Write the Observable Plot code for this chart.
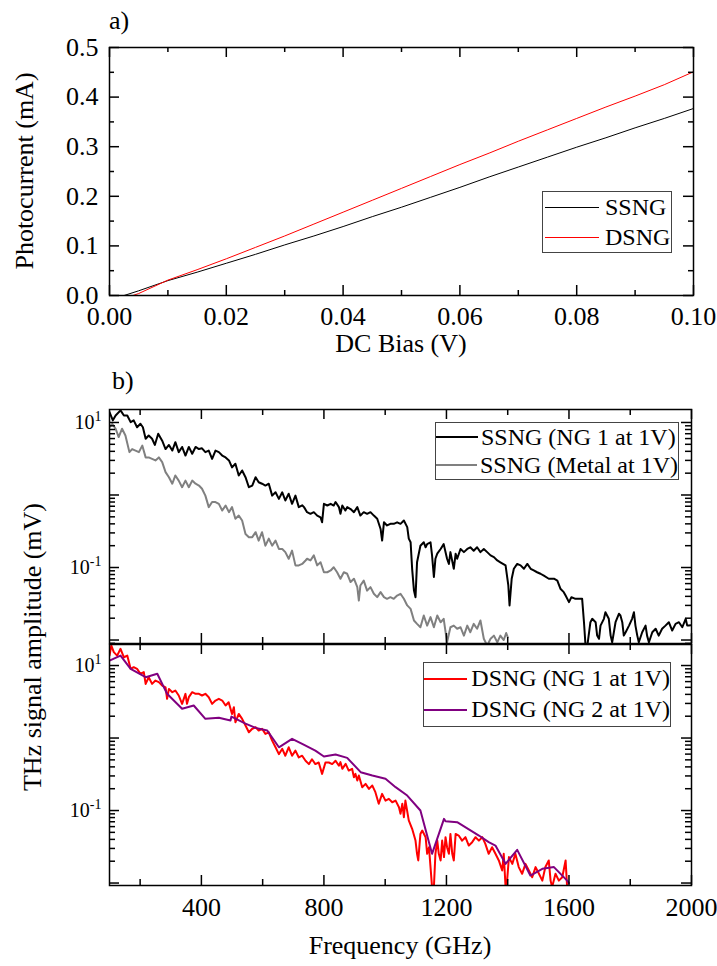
<!DOCTYPE html>
<html>
<head>
<meta charset="utf-8">
<script src="https://cdn.jsdelivr.net/npm/d3@7"></script>
<script src="https://cdn.jsdelivr.net/npm/@observablehq/plot@0.6"></script>
<style>
  body { margin: 0; background: #fff; }
  #wrap { position: relative; width: 717px; height: 966px; overflow: hidden;
          font-family: 'Liberation Serif', 'Times New Roman', serif; color: #000; }
  #wrap svg { position: absolute; left: 0; }
  .txt { position: absolute; font-size: 26px; line-height: 26px; white-space: nowrap; }
  .vt { position: absolute; font-size: 26px; line-height: 26px; height: 26px; width: 400px;
        text-align: center; white-space: nowrap; transform: rotate(-90deg); }
  .legend { position: absolute; border: 1px solid #444; background: #fff; box-sizing: border-box;
            font-size: 24px; white-space: nowrap; }
  .legend .row { display: flex; align-items: center; }
  .legend .sw { display: inline-block; }
</style>
</head>
<body>
<div id="wrap"></div>
<script>
// ---------- DATA ----------
// Panel a) Photocurrent vs DC bias
const biasSSNG = [0.0025, 0.005, 0.01, 0.015, 0.02, 0.025, 0.03, 0.035, 0.04, 0.045, 0.05, 0.055, 0.06, 0.065, 0.07, 0.075, 0.08, 0.085, 0.09, 0.095, 0.1];
const currSSNG = [0, 0.0095, 0.030, 0.047, 0.065, 0.083, 0.102, 0.120, 0.139, 0.159, 0.178, 0.198, 0.218, 0.239, 0.259, 0.279, 0.299, 0.318, 0.338, 0.357, 0.377];
const biasDSNG = [0.004, 0.005, 0.01, 0.015, 0.02, 0.025, 0.03, 0.035, 0.04, 0.045, 0.05, 0.055, 0.06, 0.065, 0.07, 0.075, 0.08, 0.085, 0.09, 0.095, 0.1];
const currDSNG = [0, 0.004, 0.031, 0.052, 0.074, 0.097, 0.120, 0.144, 0.168, 0.192, 0.216, 0.240, 0.264, 0.287, 0.311, 0.334, 0.357, 0.380, 0.402, 0.425, 0.451];

// Panel b) top: SSNG (NG 1 at 1V)
const freqSsngNg = [100,111,120,136,147,158,169,179,190,201,209,218,228,239,248,259,272,283,294,305,315,326,337,348,359,370,381,392,402,413,424,435,446,457,468,479,490,500,511,522,533,544,555,566,577,587,598,609,620,631,642,653,664,674,685,696,707,718,729,
 735,745,756,767,778,789,794,800,811,822,832,838,849,854,860,870,876,887,898,909,919,930,941,952,963,974,985,990,996,1006,1017,1028,1039,1050,1061,1072,1077,1083,1088,1094,1099,1104,1115,1126,1132,1137,1148,1153,1159,1164,1170,1181,1191,1202,1208,1213,1224,1230,1235,1246,1257,1268,1278,1289,1300,1311,1322,1333,1344,1355,1366,1376,
 1393,1402,1406,1413,1420,1431,1442,1453,1464,1475,1485,1496,1507,1518,1534,1551,1562,1572,1583,1589,1600,1608,1621,1632,1643,1649,1654,1660,1670,1676,1687,1692,1698,1703,1714,1719,1730,1736,1741,1752,1763,1768,1774,1779,1785,1796,1806,1812,1817,1823,1828,1839,1850,1855,1861,1872,1883,1893,1904,1915,1926,1937,1948,1959,1970,1981,1986,1991,2000];
const ampSsngNg = [13.9,10.7,12.5,14.7,12.5,12.5,10.1,10.7,8.6,9.6,8.6,5.96,6.6,5.96,4.9,7.0,5.6,4.3,4.9,4.1,5.35,3.9,4.6,3.5,4.6,3.7,4.6,4.3,4.4,3.9,4.1,3.15,4.1,3.9,3.5,3.3,3.0,2.4,2.7,1.86,2.18,1.76,1.28,1.35,1.76,1.5,1.43,1.35,1.43,0.98,1.09,0.885,1.09,0.84,1.04,0.755,0.98,0.68,0.72,
 0.68,0.58,0.55,0.58,0.52,0.49,0.42,0.755,0.716,0.755,0.716,0.80,0.68,0.55,0.716,0.61,0.68,0.64,0.58,0.68,0.52,0.58,0.55,0.58,0.52,0.47,0.34,0.235,0.42,0.38,0.40,0.40,0.42,0.40,0.445,0.36,0.25,0.223,0.096,0.048,0.039,0.118,0.20,0.223,0.19,0.21,0.223,0.147,0.074,0.132,0.155,0.18,0.21,0.132,0.112,0.163,0.096,0.155,0.132,0.18,0.163,0.18,0.19,0.17,0.19,0.163,0.18,0.163,0.147,0.139,0.125,0.118,
 0.107,0.0565,0.030,0.070,0.096,0.112,0.107,0.096,0.112,0.096,0.091,0.086,0.082,0.077,0.070,0.070,0.066,0.051,0.0457,0.041,0.0333,0.039,0.037,0.037,0.037,0.0176,0.0084,0.0084,0.0176,0.0196,0.0176,0.0115,0.0104,0.0158,0.0196,0.0242,0.0196,0.0115,0.0093,0.0176,0.023,0.0218,0.0176,0.0115,0.0128,0.0158,0.0196,0.0242,0.0158,0.0115,0.0093,0.0128,0.0158,0.0115,0.0093,0.0128,0.0143,0.0115,0.0143,0.0158,0.0176,0.0135,0.0167,0.0176,0.015,0.0196,0.0158,0.0158,0.016];

// Panel b) top: SSNG (Metal at 1V)
const freqSsngMetal = [100,109,120,130,141,152,165,174,185,196,207,218,228,239,250,261,272,283,294,305,315,326,337,348,359,370,381,392,402,413,424,435,446,457,468,479,490,500,511,522,533,544,555,566,577,587,598,609,620,631,642,653,664,674,685,696,707,718,729,740,
 745,756,767,778,789,800,811,822,832,843,854,865,876,887,898,909,914,919,930,941,952,963,974,985,996,1006,1017,1028,1039,1050,1061,1072,1083,1094,1104,1115,1126,1137,1148,1159,1170,1181,1191,1202,1213,1224,1235,1246,1257,1268,1278,1289,1300,1311,1322,1333,1344,1355,1366,1376,1387,1395,1400];
const ampSsngMetal = [8.6,9.6,8.2,6.3,8.2,6.6,3.9,4.3,4.1,3.9,4.8,3.3,3.3,3.15,3.0,3.3,2.84,2.07,1.76,1.43,1.86,1.58,1.28,1.58,1.28,1.58,1.43,1.35,1.22,0.98,0.68,0.80,0.80,0.755,0.61,0.716,0.58,0.68,0.47,0.52,0.445,0.29,0.262,0.262,0.307,0.235,0.307,0.20,0.25,0.20,0.235,0.18,0.18,0.163,0.132,0.171,0.107,0.107,0.112,0.125,
 0.132,0.125,0.147,0.107,0.118,0.086,0.086,0.091,0.101,0.086,0.070,0.086,0.082,0.063,0.070,0.0536,0.035,0.0565,0.066,0.048,0.0536,0.0434,0.039,0.0457,0.039,0.037,0.039,0.037,0.041,0.0434,0.037,0.030,0.0269,0.0186,0.0167,0.015,0.0218,0.0158,0.0207,0.015,0.0218,0.0176,0.0196,0.0093,0.015,0.0158,0.0143,0.015,0.0115,0.0158,0.0128,0.0167,0.0143,0.0186,0.0104,0.0084,0.0104,0.0115,0.0093,0.0115,0.0100,0.0125,0.0110];

// Panel b) bottom: DSNG (NG 1 at 1V)
const freqDsngNg1 = [100,106,114,125,136,147,158,169,179,190,201,212,218,228,239,250,261,272,283,288,294,305,315,326,337,348,353,359,370,381,392,402,413,424,435,446,457,468,479,489,500,506,511,522,533,544,555,566,577,587,598,609,620,631,642,653,664,674,685,696,707,718,729,740,751,761,772,783,794,805,816,827,838,849,
 854,860,871,881,892,898,903,909,914,925,936,947,958,968,979,990,1001,1012,1023,1034,1045,1050,1056,1061,1066,1077,1088,1099,1104,1108,1115,1121,1132,1137,1143,1148,1153,1159,1164,1170,1175,1181,1186,1192,1197,1202,1208,1213,1219,1224,1230,1240,1251,1262,1273,1284,1295,1306,1317,1327,1338,1349,1360,1371,1382,1387,1393,1398,1404,1415,1425,1436,1447,1458,1469,1480,1491,1502,1513,1523,1534,1540,1545,1556,1567,1578,1589,1594];
const ampDsngNg1 = [13.7,18.9,15.3,13.7,17.0,13.0,13.7,9.0,9.5,9.0,7.7,8.1,5.58,6.9,5.58,6.2,5.9,5.3,5.0,3.47,4.76,4.29,4.52,3.86,2.96,4.07,2.96,3.66,4.29,4.07,4.07,3.86,4.07,3.66,2.96,3.29,3.47,3.29,2.81,3.12,2.15,2.66,1.65,2.15,1.84,1.49,1.20,1.34,1.41,1.27,1.34,1.14,1.20,0.92,0.745,0.60,0.71,0.57,0.745,0.57,0.67,0.54,0.57,0.486,0.437,0.51,0.437,0.46,0.32,0.46,0.46,0.437,0.486,0.415,
 0.465,0.376,0.44,0.356,0.376,0.288,0.32,0.26,0.304,0.21,0.233,0.199,0.221,0.179,0.124,0.17,0.137,0.145,0.130,0.137,0.111,0.090,0.124,0.081,0.137,0.073,0.056,0.0385,0.0253,0.0205,0.0476,0.053,0.0429,0.0253,0.0312,0.0166,0.0088,0.0088,0.0253,0.0385,0.0253,0.0205,0.0385,0.0228,0.0429,0.0312,0.0253,0.0476,0.0253,0.0205,0.0476,0.0452,0.0385,0.0429,0.0329,0.0366,0.0429,0.0385,0.0429,0.0347,0.0253,0.0312,0.0253,0.0205,0.0149,0.0253,0.0088,0.0108,0.0228,0.0184,0.0253,0.0166,0.0134,0.0184,0.0149,0.0120,0.0166,0.0134,0.0108,0.0166,0.0205,0.0108,0.0088,0.0134,0.0108,0.0120,0.0205,0.0088];

// Panel b) bottom: DSNG (NG 2 at 1V)
const freqDsngNg2 = [100,136,169,218,256,288,337,375,413,457,495,498,544,577,615,653,696,729,772,800,838,876,920,958,1001,1034,1072,1115,1153,1192,1197,1235,1306,1338,1360,1393,1431,1474,1513,1551,1594,1600];
const ampDsngNg2 = [11.7,13.7,9.0,6.9,7.7,4.07,2.53,2.81,1.84,1.90,1.74,1.98,1.58,1.38,1.27,0.745,0.975,0.83,0.67,0.556,0.593,0.533,0.338,0.304,0.274,0.21,0.161,0.100,0.0253,0.0768,0.0713,0.069,0.0452,0.0366,0.0329,0.0184,0.0287,0.0127,0.0157,0.0166,0.0108,0.0100];

// Tick values
const xTicksA = [0, 0.02, 0.04, 0.06, 0.08, 0.1];
const xMinorA = [0.01, 0.03, 0.05, 0.07, 0.09];
const yTicksA = [0, 0.1, 0.2, 0.3, 0.4, 0.5];
const yMinorA = [0.05, 0.15, 0.25, 0.35, 0.45];
const xTicksB = [400, 800, 1200, 1600, 2000];
const xMinorB = [200, 600, 1000, 1400, 1800];
const yLabelTicksB = [0.1, 10];
const yDecadesB = [0.01, 0.1, 1, 10];

// ---------- HELPERS ----------
const FONT = "'Liberation Serif', 'Times New Roman', serif";
const rows = (fs, vs) => fs.map((f, i) => ({f, v: vs[i]}));

function logMinor(domain) {
  const out = [];
  for (let e = -3; e <= 1; e++) for (let m = 2; m <= 9; m++) {
    const v = m * Math.pow(10, e);
    if (v > domain[0] && v < domain[1]) out.push(v);
  }
  return out;
}

function frameTicks({xMajor, xMinor, yMajor, yMinor, fw, fh, major, minor, sw}) {
  const st = {stroke: "#000", strokeWidth: sw};
  return [
    Plot.tickX(xMajor, {x: d => d, insetTop: fh - major, ...st}),
    Plot.tickX(xMajor, {x: d => d, insetBottom: fh - major, ...st}),
    Plot.tickX(xMinor, {x: d => d, insetTop: fh - minor, ...st}),
    Plot.tickX(xMinor, {x: d => d, insetBottom: fh - minor, ...st}),
    Plot.tickY(yMajor, {y: d => d, insetRight: fw - major, ...st}),
    Plot.tickY(yMajor, {y: d => d, insetLeft: fw - major, ...st}),
    Plot.tickY(yMinor, {y: d => d, insetRight: fw - minor, ...st}),
    Plot.tickY(yMinor, {y: d => d, insetLeft: fw - minor, ...st})
  ];
}

function superscriptLabels(svg) {
  svg.querySelectorAll('g[aria-label="y-axis tick label"] text').forEach(t => {
    const exp = t.textContent;
    t.textContent = "10";
    const ts = document.createElementNS("http://www.w3.org/2000/svg", "tspan");
    ts.setAttribute("dy", "-8");
    ts.setAttribute("font-size", "14px");
    ts.textContent = exp;
    t.appendChild(ts);
  });
}

const wrap = document.getElementById("wrap");
function place(svg, top) { svg.style.top = top + "px"; wrap.appendChild(svg); }
function addText(cls, text, css) {
  const d = document.createElement("div");
  d.className = cls; d.textContent = text;
  Object.assign(d.style, css);
  wrap.appendChild(d);
}
function addLegend(box, items, sw) {
  const L = document.createElement("div");
  L.className = "legend";
  Object.assign(L.style, {left: box.left + "px", top: box.top + "px", width: box.width + "px", height: box.height + "px"});
  items.forEach(it => {
    const r = document.createElement("div");
    r.className = "row";
    r.style.height = box.rowH + "px";
    const s = document.createElement("span");
    s.className = "sw";
    Object.assign(s.style, {width: sw.width + "px", marginLeft: sw.left + "px", marginRight: sw.gap + "px",
      borderTop: sw.thick + "px solid " + it.color});
    const t = document.createElement("span");
    t.textContent = it.label;
    r.appendChild(s); r.appendChild(t);
    L.appendChild(r);
  });
  wrap.appendChild(L);
}

// ---------- PANEL a ----------
{
  const mT = 47, mB = 45, mL = 109, mR = 24, H = 340;
  const fh = H - mT - mB, fw = 717 - mL - mR;
  const p = Plot.plot({
    width: 717, height: H, marginTop: mT, marginBottom: mB, marginLeft: mL, marginRight: mR,
    style: {background: "transparent", fontFamily: FONT, fontSize: "26px", color: "#000"},
    x: {domain: [0, 0.1], label: null},
    y: {domain: [0, 0.5], label: null},
    marks: [
      Plot.line(rows(biasSSNG, currSSNG), {x: "f", y: "v", stroke: "#000", strokeWidth: 1, clip: true}),
      Plot.line(rows(biasDSNG, currDSNG), {x: "f", y: "v", stroke: "#ff0000", strokeWidth: 1, clip: true}),
      ...frameTicks({xMajor: xTicksA, xMinor: xMinorA, yMajor: yTicksA, yMinor: yMinorA, fw, fh, major: 10, minor: 5, sw: 1.5}),
      Plot.axisX({ticks: xTicksA, tickFormat: ".2f", tickSize: 0, tickPadding: 11, label: null, fontSize: 26}),
      Plot.axisY({ticks: yTicksA, tickFormat: ".1f", tickSize: 0, tickPadding: 11, label: null, fontSize: 26}),
      Plot.frame({stroke: "#000", strokeWidth: 1.5})
    ]
  });
  place(p, 0);
}

// ---------- PANEL b top ----------
{
  const mT = 49, mB = 17, mL = 109, mR = 26, H = 300;
  const fh = H - mT - mB, fw = 717 - mL - mR;
  const dom = [Math.pow(10, -2.048), Math.pow(10, 1.179)];
  const p = Plot.plot({
    width: 717, height: H, marginTop: mT, marginBottom: mB, marginLeft: mL, marginRight: mR,
    style: {background: "transparent", fontFamily: FONT, fontSize: "20px", color: "#000"},
    x: {domain: [100, 2000], label: null, axis: null},
    y: {type: "log", domain: dom, label: null},
    marks: [
      Plot.line(rows(freqSsngMetal, ampSsngMetal), {x: "f", y: "v", stroke: "#808080", strokeWidth: 2, clip: true}),
      Plot.line(rows(freqSsngNg, ampSsngNg), {x: "f", y: "v", stroke: "#000", strokeWidth: 2, clip: true}),
      ...frameTicks({xMajor: xTicksB, xMinor: xMinorB, yMajor: yDecadesB.filter(v => v > dom[0] && v < dom[1]), yMinor: logMinor(dom), fw, fh, major: 10, minor: 6, sw: 1.5}),
      Plot.axisY({ticks: yLabelTicksB, tickFormat: d => (d >= 1 ? "1" : "-1"), tickSize: 0, tickPadding: 8, label: null, fontSize: 20}),
      Plot.frame({stroke: "#000", strokeWidth: 1.5})
    ]
  });
  superscriptLabels(p);
  place(p, 360);
}

// ---------- PANEL b bottom ----------
{
  const mT = 44, mB = 81, mL = 109, mR = 26, H = 366;
  const fh = H - mT - mB, fw = 717 - mL - mR;
  const dom = [Math.pow(10, -2.034), Math.pow(10, 1.29)];
  const p = Plot.plot({
    width: 717, height: H, marginTop: mT, marginBottom: mB, marginLeft: mL, marginRight: mR,
    style: {background: "transparent", fontFamily: FONT, fontSize: "26px", color: "#000"},
    x: {domain: [100, 2000], label: null},
    y: {type: "log", domain: dom, label: null},
    marks: [
      Plot.line(rows(freqDsngNg1, ampDsngNg1), {x: "f", y: "v", stroke: "#ff0000", strokeWidth: 2, clip: true}),
      Plot.line(rows(freqDsngNg2, ampDsngNg2), {x: "f", y: "v", stroke: "#800080", strokeWidth: 2, clip: true}),
      ...frameTicks({xMajor: xTicksB, xMinor: xMinorB, yMajor: yDecadesB.filter(v => v > dom[0] && v < dom[1]), yMinor: logMinor(dom), fw, fh, major: 10, minor: 6, sw: 1.5}),
      Plot.axisX({ticks: xTicksB, tickFormat: d => String(d), tickSize: 0, tickPadding: 12, label: null, fontSize: 26}),
      Plot.axisY({ticks: yLabelTicksB, tickFormat: d => (d >= 1 ? "1" : "-1"), tickSize: 0, tickPadding: 8, label: null, fontSize: 20}),
      Plot.frame({stroke: "#000", strokeWidth: 1.5})
    ]
  });
  superscriptLabels(p);
  place(p, 600);
}

// ---------- TEXT: panel labels & axis titles ----------
addText("txt", "a)", {left: "109px", top: "8px"});
addText("txt", "b)", {left: "112px", top: "368px"});
addText("txt", "DC Bias (V)", {left: "201px", width: "400px", textAlign: "center", top: "331px"});
addText("txt", "Frequency (GHz)", {left: "200px", width: "400px", textAlign: "center", top: "933px"});
addText("vt", "Photocurrent (mA)", {left: (25 - 200) + "px", top: (171 - 13) + "px"});
addText("vt", "THz signal amplitude (mV)", {left: (33 - 200) + "px", top: (647 - 13) + "px"});

// ---------- LEGENDS ----------
addLegend({left: 542, top: 191, width: 130, height: 62, rowH: 30},
  [{label: "SSNG", color: "#000"}, {label: "DSNG", color: "#ff0000"}],
  {left: 2, width: 54, gap: 6, thick: 1});
addLegend({left: 435, top: 422, width: 244, height: 58, rowH: 28},
  [{label: "SSNG (NG 1 at 1V)", color: "#000"}, {label: "SSNG (Metal at 1V)", color: "#808080"}],
  {left: 0, width: 42, gap: 3, thick: 2});
addLegend({left: 423, top: 662, width: 248, height: 65, rowH: 31},
  [{label: "DSNG (NG 1 at 1V)", color: "#ff0000"}, {label: "DSNG (NG 2 at 1V)", color: "#800080"}],
  {left: 0, width: 44, gap: 4, thick: 2});
</script>
</body>
</html>
